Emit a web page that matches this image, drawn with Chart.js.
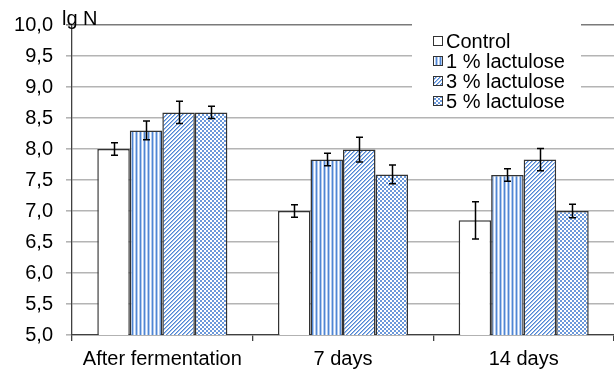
<!DOCTYPE html>
<html>
<head>
<meta charset="utf-8">
<script src="https://cdn.jsdelivr.net/npm/chart.js@4.4.1/dist/chart.umd.min.js"></script>
<style>
  html, body { margin: 0; padding: 0; background: #ffffff; }
  #wrap { width: 614px; height: 371px; }
</style>
</head>
<body>
<div id="wrap"><canvas id="c" width="614" height="371"></canvas></div>
<script>
// ---- data ----
const categories = ['After fermentation', '7 days', '14 days'];
const seriesNames = ['Control', '1 % lactulose', '3 % lactulose', '5 % lactulose'];
const control = [8.0, 7.0, 6.85];
const lactulose1 = [8.3, 7.83, 7.58];
const lactulose3 = [8.59, 7.99, 7.83];
const lactulose5 = [8.59, 7.59, 7.0];
const errControl = [0.1, 0.1, 0.3];
const errLactulose1 = [0.15, 0.1, 0.1];
const errLactulose3 = [0.18, 0.2, 0.18];
const errLactulose5 = [0.1, 0.15, 0.11];
const yTickValues = [5.0, 5.5, 6.0, 6.5, 7.0, 7.5, 8.0, 8.5, 9.0, 9.5, 10.0];
const yAxisTitle = 'lg N';

// ---- patterns ----
const BLUE = '#4f86d4';
const LIGHT = '#b3cbee';
function makePattern(w, h, fn) {
  const cv = document.createElement('canvas');
  cv.width = w; cv.height = h;
  const cx = cv.getContext('2d');
  for (let y = 0; y < h; y++) for (let x = 0; x < w; x++) {
    cx.fillStyle = fn(x, y);
    cx.fillRect(x, y, 1, 1);
  }
  return cx.createPattern(cv, 'repeat');
}
const patVert = makePattern(4, 1, (x) => [BLUE, LIGHT, '#ffffff', LIGHT][x]);
const patDiag = makePattern(4, 4, (x, y) => ((x + y) % 4 === 0 ? BLUE : ((x + y) % 4 === 1 ? '#9dbbe8' : '#ffffff')));
const patCheck = makePattern(4, 4, (x, y) => ((((x >> 1) + (y >> 1)) % 2 === 0) ? '#6b98da' : '#ffffff'));

const fills = ['#ffffff', patVert, patDiag, patCheck];
const values = [control, lactulose1, lactulose3, lactulose5];
const errors = [errControl, errLactulose1, errLactulose3, errLactulose5];
const FONT = "'Liberation Sans', Arial, sans-serif";
const FS = 20;

const datasets = seriesNames.map((name, i) => ({
  label: name,
  data: values[i],
  errors: errors[i],
  backgroundColor: fills[i],
  borderColor: '#333333',
  borderWidth: 1.5,
  categoryPercentage: 0.72,
  barPercentage: 1.0
}));

const errorBarPlugin = {
  id: 'errorBars',
  afterDatasetsDraw(chart) {
    const ctx = chart.ctx;
    const ys = chart.scales.y;
    ctx.save();
    ctx.strokeStyle = '#000000';
    ctx.lineWidth = 1.5;
    chart.data.datasets.forEach((ds, di) => {
      const meta = chart.getDatasetMeta(di);
      meta.data.forEach((el, j) => {
        const v = ds.data[j], e = ds.errors[j];
        const x = Math.round(el.x) + 0.5;
        const yT = ys.getPixelForValue(v + e);
        const yB = ys.getPixelForValue(v - e);
        ctx.beginPath();
        ctx.moveTo(x, yT); ctx.lineTo(x, yB);
        ctx.moveTo(x - 3.5, yT); ctx.lineTo(x + 3.5, yT);
        ctx.moveTo(x - 3.5, yB); ctx.lineTo(x + 3.5, yB);
        ctx.stroke();
      });
    });
    ctx.restore();
  }
};

const legendPlugin = {
  id: 'customLegend',
  afterDraw(chart) {
    const ctx = chart.ctx;
    ctx.save();
    ctx.fillStyle = '#ffffff';
    ctx.fillRect(412, 24, 169, 90);
    ctx.font = FS + 'px ' + FONT;
    ctx.textBaseline = 'middle';
    ctx.textAlign = 'left';
    chart.data.datasets.forEach((ds, i) => {
      const cy = 41 + i * 20;
      ctx.fillStyle = ds.backgroundColor;
      ctx.fillRect(433, cy - 5, 10, 10);
      ctx.strokeStyle = '#333333';
      ctx.lineWidth = 1;
      ctx.strokeRect(433.5, cy - 4.5, 9, 9);
      ctx.fillStyle = '#000000';
      ctx.fillText(ds.label, 446, cy + 1);
    });
    // axis title
    ctx.textBaseline = 'alphabetic';
    ctx.fillText(yAxisTitle, 62, 25);
    ctx.restore();
  }
};

new Chart(document.getElementById('c'), {
  type: 'bar',
  data: { labels: categories, datasets },
  options: {
    responsive: false,
    animation: false,
    layout: { padding: { top: 22, right: 0, left: 0, bottom: 0 } },
    plugins: { legend: { display: false }, tooltip: { enabled: false } },
    scales: {
      x: {
        afterFit(s) { s.height = 36; },
        grid: { drawOnChartArea: false, drawTicks: true, tickLength: 6, color: '#404040', lineWidth: 1.3, offset: true },
        border: { color: '#404040', width: 1.3 },
        ticks: { color: '#000000', font: { family: FONT, size: FS }, padding: 6, maxRotation: 0 }
      },
      y: {
        min: 5, max: 10,
        afterFit(s) { s.width = 72; },
        afterBuildTicks(s) { s.ticks = yTickValues.map(v => ({ value: v })); },
        grid: { color: (c) => (c.tick && c.tick.value === 10 ? '#7a7a7a' : '#b4b4b4'), lineWidth: 1.6, tickLength: 6 },
        border: { color: '#404040', width: 1.3 },
        ticks: {
          color: '#000000', font: { family: FONT, size: FS }, padding: 13,
          callback: (v) => Number(v).toFixed(1).replace('.', ',')
        }
      }
    }
  },
  plugins: [errorBarPlugin, legendPlugin]
});
</script>
</body>
</html>
